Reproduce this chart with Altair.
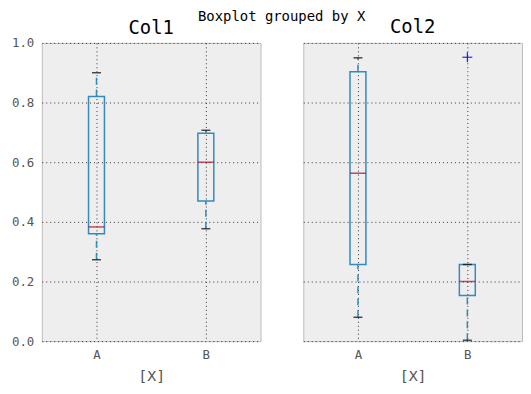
import altair as alt
import pandas as pd

# Box statistics
columns = ["Col1", "Col1", "Col2", "Col2"]
groups = ["A", "B", "A", "B"]
whisker_low = [0.273, 0.377, 0.080, 0.003]
q1 = [0.360, 0.470, 0.257, 0.153]
median = [0.383, 0.600, 0.563, 0.200]
q3 = [0.820, 0.697, 0.903, 0.257]
whisker_high = [0.900, 0.707, 0.950, 0.257]

outlier_columns = ["Col2"]
outlier_groups = ["B"]
outlier_values = [0.952]

y_ticks = [0.0, 0.2, 0.4, 0.6, 0.8, 1.0]

stats = pd.DataFrame({
    "col": columns, "group": groups, "lo": whisker_low, "q1": q1,
    "med": median, "q3": q3, "hi": whisker_high,
})
outl = pd.DataFrame({"col": outlier_columns, "group": outlier_groups, "val": outlier_values})

FONT = "DejaVu Sans Mono"
BLUE = "#348ABD"
RED = "#A60628"


def panel(col, show_labels, title_offset):
    d = stats[stats["col"] == col]
    o = outl[outl["col"] == col]
    xenc = alt.X("group:N", scale=alt.Scale(type="point", padding=0.5, domain=["A", "B"]),
                 axis=alt.Axis(title="[X]", labelAngle=0, grid=True, ticks=False, domain=False,
                               gridDash=[1, 3], gridColor="#222", gridOpacity=0.9,
                               labelFont=FONT, labelFontSize=12.5, labelColor="#555",
                               labelPadding=7, titleFont=FONT, titleFontSize=15,
                               titleFontWeight="normal", titleColor="#555", titlePadding=8))
    yscale = alt.Scale(domain=[0, 1], nice=False, zero=False)
    yaxis = alt.Axis(title=None, values=y_ticks, format=".1f", grid=True, ticks=False, domain=False,
                     labels=show_labels, gridDash=[1, 3], gridColor="#222", gridOpacity=0.9,
                     labelFont=FONT, labelFontSize=12.5, labelColor="#555", labelPadding=8)
    base = alt.Chart(d)
    whisk_up = base.mark_rule(color=BLUE, strokeWidth=1.5, strokeDash=[7, 5]).encode(
        x=xenc, y=alt.Y("q3:Q", scale=yscale, axis=yaxis), y2="hi:Q")
    whisk_dn = base.mark_rule(color=BLUE, strokeWidth=1.5, strokeDash=[7, 5]).encode(
        x="group:N", y="lo:Q", y2="q1:Q")
    box = base.mark_bar(size=16, fill="#eeeeee", fillOpacity=0, stroke=BLUE, strokeWidth=1.5).encode(
        x="group:N", y="q1:Q", y2="q3:Q")
    med = base.mark_tick(color=RED, size=16, thickness=1.5, orient="horizontal").encode(
        x="group:N", y="med:Q")
    cap_hi = base.mark_tick(color="black", size=9, thickness=1.5, orient="horizontal").encode(
        x="group:N", y="hi:Q")
    cap_lo = base.mark_tick(color="black", size=9, thickness=1.5, orient="horizontal").encode(
        x="group:N", y="lo:Q")
    layers = [whisk_up, whisk_dn, box, med, cap_hi, cap_lo]
    if len(o):
        pts = alt.Chart(o).mark_point(shape="M-1,0L1,0M0,-1L0,1", size=100, filled=False,
                                      color="blue", strokeWidth=1, opacity=1).encode(
            x="group:N", y="val:Q")
        layers.append(pts)
    return alt.layer(*layers).properties(
        width=220, height=300,
        title=alt.TitleParams(col, font=FONT, fontSize=19, fontWeight="normal", color="black",
                              offset=title_offset, frame="group"),
    )


chart = alt.hconcat(panel("Col1", True, -1), panel("Col2", False, 6), spacing=41).properties(
    title=alt.TitleParams("Boxplot grouped by X", font=FONT, fontSize=14, fontWeight="normal",
                          color="black", anchor="middle", offset=-7, dx=15, dy=-1),
    padding={"left": 2, "top": 0, "right": 0, "bottom": 0},
).configure_view(fill="#eeeeee", stroke="#bcbcbc", strokeWidth=1)

chart.save("out.html", embed_options={"renderer": "svg", "actions": False})
